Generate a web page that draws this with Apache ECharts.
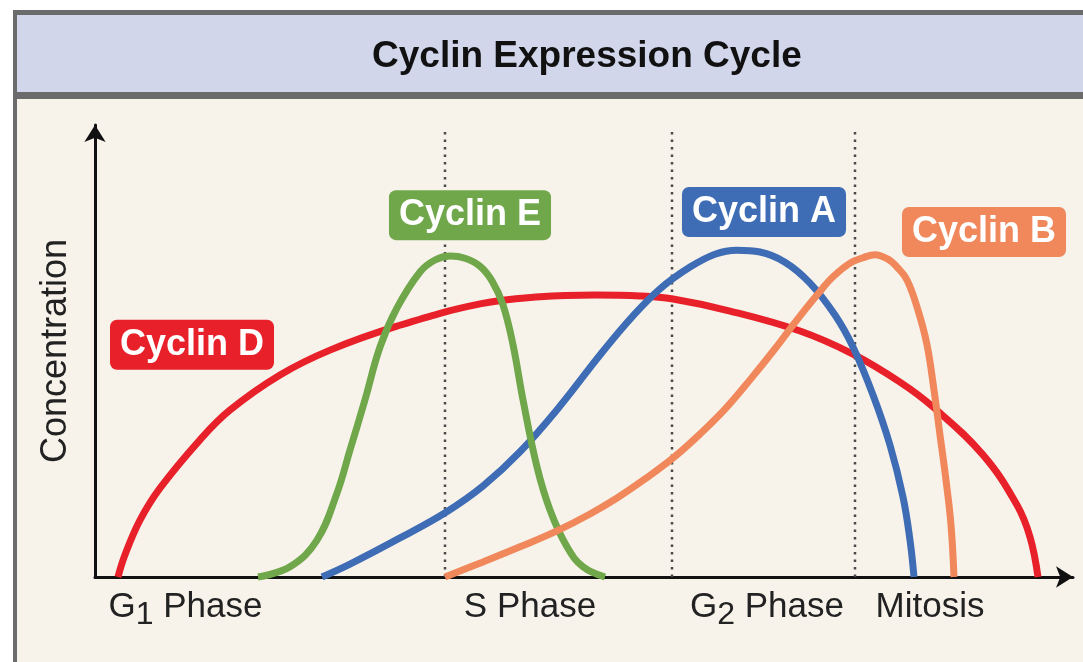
<!DOCTYPE html>
<html>
<head>
<meta charset="utf-8">
<script src="https://cdn.jsdelivr.net/npm/echarts@6/dist/echarts.min.js"></script>
<style>
html,body{margin:0;padding:0;background:#fff;}
#chart{width:1083px;height:662px;}
</style>
</head>
<body>
<div id="chart"></div>
<script>
// ---- data (time units on x, relative concentration on y) ----
const titleText = 'Cyclin Expression Cycle';
const yAxisName = 'Concentration';
const phaseLabels = ['G1 Phase', 'S Phase', 'G2 Phase', 'Mitosis'];
const phasePositions = [9.05, 43.5, 67.2, 83.5];
const phaseBoundaries = [35.0, 57.7, 76.0];

const cyclinD = [[2.3,0],[3.0,5.0],[4.5,12.8],[6.5,20.0],[10.5,30.9],[13.5,37.6],[18.5,45.5],[23.5,51.1],[30.2,56.5],[38.5,61.5],[44.5,63.1],[50.0,63.5],[54.5,63.3],[57.8,62.6],[63.5,59.9],[70.5,55.4],[75.8,50.2],[80.5,43.9],[83.8,38.3],[88.8,27.5],[92.2,16.2],[93.5,9.0],[94.3,0]];
const cyclinE = [[16.3,0],[19.5,2.3],[22.2,8.3],[24.2,18.9],[25.5,28.6],[27.0,39.9],[28.5,51.8],[30.2,60.6],[32.5,68.7],[34.0,71.4],[35.5,72.3],[37.0,71.8],[38.5,70.0],[39.7,66.7],[40.8,61.3],[41.8,52.3],[42.8,39.9],[44.2,24.8],[45.5,15.1],[47.2,6.8],[48.8,2.3],[51.0,0]];
const cyclinA = [[22.7,0],[25.5,2.9],[30.5,8.8],[35.1,14.6],[38.8,20.5],[42.5,28.2],[46.5,38.5],[50.5,50.0],[53.8,58.8],[56.5,64.9],[59.5,69.8],[62.0,72.7],[64.2,73.6],[66.5,73.2],[69.0,70.9],[71.5,66.2],[74.0,59.0],[75.8,51.8],[77.8,41.0],[79.5,29.7],[80.8,18.0],[81.5,8.3],[81.9,0]];
const cyclinB = [[35.0,0],[38.8,3.4],[42.5,6.8],[46.2,10.4],[49.5,14.2],[52.2,17.8],[55.0,22.1],[57.8,26.8],[60.5,32.2],[63.0,37.8],[65.5,44.4],[68.0,51.4],[70.2,57.9],[72.2,63.5],[73.8,67.6],[75.5,70.7],[76.8,71.9],[78.0,72.6],[79.3,71.6],[80.2,69.8],[81.2,66.9],[82.3,60.1],[83.2,52.3],[83.9,42.1],[84.5,32.0],[85.1,21.8],[85.6,11.7],[85.9,0]];

const seriesNames = ['Cyclin D', 'Cyclin A', 'Cyclin E', 'Cyclin B'];
const labelAnchors = {
  'Cyclin D': [9.7, 52.3],
  'Cyclin E': [37.5, 81.5],
  'Cyclin A': [66.9, 82.2],
  'Cyclin B': [88.9, 77.7]
};
const seriesData = {'Cyclin D': cyclinD, 'Cyclin A': cyclinA, 'Cyclin E': cyclinE, 'Cyclin B': cyclinB};
const seriesColors = {'Cyclin D': '#E8202A', 'Cyclin A': '#3E6CB5', 'Cyclin E': '#6FA74A', 'Cyclin B': '#F0885C'};

const FONT = '"Liberation Sans", Arial, Helvetica, sans-serif';

const chart = echarts.init(document.getElementById('chart'), null, {renderer: 'canvas'});

const series = [];
phaseBoundaries.forEach(function (xb, i) {
  series.push({
    type: 'line', name: 'boundary' + i,
    data: [[xb, 0], [xb, 101.2]],
    showSymbol: false, symbol: 'none', clip: false, silent: true, z: 1,
    lineStyle: {color: '#4a4a4a', width: 2.5, type: [2.5, 5]}
  });
});
seriesNames.forEach(function (name, i) {
  series.push({
    type: 'line', name: name,
    data: seriesData[name],
    smooth: 0.4, showSymbol: false, symbol: 'none', clip: false, z: 3 + i,
    lineStyle: {color: seriesColors[name], width: 7, cap: 'butt'},
    markPoint: {
      symbol: 'circle', symbolSize: 1, silent: true, z: 20,
      itemStyle: {color: 'rgba(0,0,0,0)'},
      data: [{coord: labelAnchors[name], value: name}],
      label: {
        show: true, position: 'inside', formatter: name,
        color: '#fff', fontSize: 36, fontWeight: 'bold', fontFamily: FONT,
        lineHeight: 38, backgroundColor: seriesColors[name], borderRadius: 7,
        padding: [6, 10, 6, 10]
      }
    }
  });
});

function phaseFormatter(v) {
  let idx = 0, best = 1e9;
  phasePositions.forEach(function (p, i) { if (Math.abs(p - v) < best) { best = Math.abs(p - v); idx = i; } });
  const t = phaseLabels[idx];
  const m = /^G(\d) (.*)$/.exec(t);
  if (m) return '{n|G}{sub|' + m[1] + '}{n| ' + m[2] + '}';
  return '{n|' + t + '}';
}

const option = {
  backgroundColor: '#ffffff',
  animation: false,
  graphic: [
    {type: 'rect', z: -10, silent: true, shape: {x: 13, y: 10, width: 1100, height: 700}, style: {fill: '#6b6b6b'}},
    {type: 'rect', z: -9, silent: true, shape: {x: 17, y: 15, width: 1100, height: 77}, style: {fill: '#D1D6EB'}},
    {type: 'rect', z: -9, silent: true, shape: {x: 17, y: 99, width: 1100, height: 600}, style: {fill: '#F7F3EB'}}
  ],
  title: {
    text: titleText, left: 372, top: 37, padding: 0,
    textStyle: {fontSize: 37, fontWeight: 'bold', color: '#111', fontFamily: FONT, lineHeight: 40}
  },
  grid: {left: 95, right: 10, top: 125, bottom: 85, containLabel: false},
  xAxis: {
    type: 'value', min: 0, max: 97.8,
    splitLine: {show: false}, axisTick: {show: false},
    axisLine: {show: true, lineStyle: {color: '#111', width: 3}, symbol: ['none', 'arrow'], symbolSize: [16, 17]},
    axisLabel: {
      show: true, customValues: phasePositions, formatter: phaseFormatter, margin: 5,
      hideOverlap: false,
      rich: {
        n: {fontSize: 35, lineHeight: 50, color: '#222', fontFamily: FONT},
        sub: {fontSize: 32, lineHeight: 34, padding: [16, 0, 0, 0], color: '#222', fontFamily: FONT}
      }
    }
  },
  yAxis: {
    type: 'value', min: 0, max: 101.8,
    name: yAxisName, nameLocation: 'middle', nameRotate: 90, nameGap: 21,
    nameTextStyle: {fontSize: 36, color: '#222', fontFamily: FONT},
    splitLine: {show: false}, axisTick: {show: false}, axisLabel: {show: false},
    axisLine: {show: true, lineStyle: {color: '#111', width: 3}, symbol: ['none', 'arrow'], symbolSize: [16, 17]}
  },
  series: series
};
chart.setOption(option);
</script>
</body>
</html>
